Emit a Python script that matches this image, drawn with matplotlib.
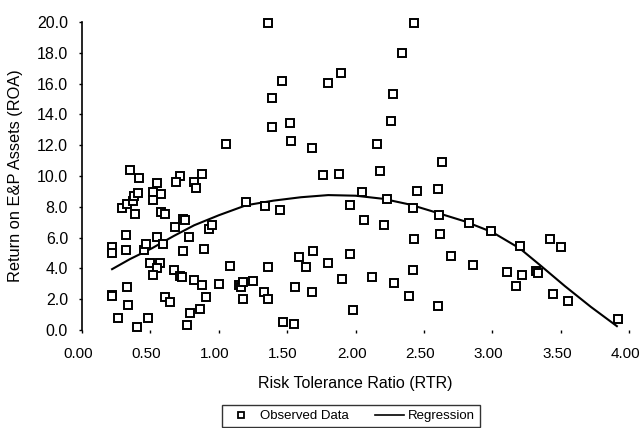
import matplotlib
matplotlib.use("Agg")
import matplotlib.pyplot as plt
from matplotlib.lines import Line2D
from matplotlib.transforms import ScaledTranslation
import numpy as np

plt.rcParams['font.family'] = ['Liberation Sans', 'DejaVu Sans']

rtr = [1.36, 2.43, 2.34, 1.46, 1.89, 1.80, 1.39, 2.27, 2.26, 1.39,
       1.52, 1.53, 2.16, 1.05, 1.68, 2.63, 1.76, 1.88, 2.18, 0.35,
       0.42, 0.55, 0.72, 0.69, 0.88, 0.82, 0.83, 0.29, 0.33, 0.37,
       0.38, 0.41, 0.39, 0.52, 0.58, 0.52, 0.58, 0.61, 0.74, 0.75,
       0.68, 0.78, 0.93, 0.95, 1.20, 1.34, 1.45, 1.96, 2.05, 2.23,
       2.45, 2.60, 2.42, 2.61, 2.83, 2.99, 2.06, 2.21, 2.43, 2.62,
       3.20, 3.42, 3.50, 0.32, 0.22, 0.22, 0.32, 0.45, 0.47, 0.55,
       0.59, 0.74, 0.89, 0.50, 0.57, 0.55, 0.52, 0.67, 0.72, 0.73,
       0.82, 0.88, 1.00, 1.08, 1.15, 1.16, 1.18, 1.25, 1.18, 1.33,
       1.36, 1.36, 1.56, 1.68, 1.59, 1.69, 1.64, 1.80, 1.96, 1.90,
       2.12, 2.28, 2.42, 2.70, 2.86, 2.39, 2.60, 1.98, 1.47, 1.55,
       3.11, 3.22, 3.32, 3.33, 3.17, 3.44, 3.55, 3.92, 0.22, 0.22,
       0.33, 0.34, 0.26, 0.40, 0.48, 0.61, 0.64, 0.91, 0.86, 0.79,
       0.77]
roa = [19.94, 19.94, 17.99, 16.17, 16.69, 16.04, 15.06, 15.32, 13.57, 13.18,
       13.44, 12.24, 12.08, 12.08, 11.82, 10.91, 10.06, 10.10, 10.32, 10.39,
       9.90, 9.53, 10.00, 9.61, 10.13, 9.59, 9.19, 7.94, 8.18, 8.40,
       8.70, 8.92, 7.53, 8.98, 8.80, 8.41, 7.68, 7.50, 7.21, 7.11,
       6.71, 6.02, 6.53, 6.82, 8.33, 8.02, 7.77, 8.14, 8.93, 8.51,
       9.03, 9.14, 7.90, 7.47, 6.93, 6.41, 7.16, 6.84, 5.92, 6.21,
       5.45, 5.89, 5.37, 6.17, 5.36, 4.98, 5.18, 5.19, 5.58, 6.05,
       5.56, 5.14, 5.29, 4.37, 4.38, 4.01, 3.57, 3.90, 3.52, 3.44,
       3.25, 2.92, 2.97, 4.14, 2.89, 2.79, 3.10, 3.18, 2.01, 2.45,
       2.01, 4.07, 2.81, 2.45, 4.72, 5.15, 4.08, 4.33, 4.92, 3.28,
       3.44, 3.07, 3.88, 4.82, 4.23, 2.21, 1.53, 1.30, 0.49, 0.39,
       3.77, 3.59, 3.83, 3.67, 2.86, 2.32, 1.86, 0.71, 2.26, 2.18,
       2.81, 1.62, 0.80, 0.21, 0.80, 2.14, 1.79, 2.11, 1.36, 1.12,
       0.34]

# regression curve as drawn
reg_x = [0.22, 0.35, 0.51, 0.67, 0.82, 1.00, 1.20, 1.40, 1.60, 1.80, 2.00,
         2.20, 2.40, 2.60, 2.80, 3.00, 3.20, 3.35, 3.53, 3.72, 3.91]
reg_y = [3.95, 4.60, 5.30, 6.10, 6.80, 7.45, 8.10, 8.40, 8.62, 8.76, 8.72,
         8.52, 8.14, 7.60, 7.05, 6.35, 5.30, 4.20, 2.85, 1.50, 0.25]

x_ticks = [0.0, 0.5, 1.0, 1.5, 2.0, 2.5, 3.0, 3.5, 4.0]
y_ticks = [0, 2, 4, 6, 8, 10, 12, 14, 16, 18, 20]

fig = plt.figure(figsize=(6.43, 4.28), dpi=100)
ax = fig.add_axes([0.1275, 0.229, 0.851, 0.7196])

ax.plot(rtr, roa, 's', mfc='white', mec='black', ms=5.3, mew=1.4,
        linestyle='none', clip_on=False, zorder=3)
ax.plot(reg_x, reg_y, '-', color='black', lw=1.5, zorder=2)

ax.set_xlim(0, 4.0)
ax.set_ylim(0, 20)
ax.set_xticks(x_ticks)
ax.set_yticks(y_ticks)
ax.set_xticklabels(["%.2f" % v for v in x_ticks])
ax.set_yticklabels(["%.1f" % v for v in y_ticks])

for s in ['top', 'right', 'bottom']:
    ax.spines[s].set_visible(False)
ax.spines['left'].set_linewidth(1.2)

ax.tick_params(axis='x', length=2, width=1, pad=10, labelsize=11)
ax.tick_params(axis='y', length=2, width=1, pad=8, labelsize=11.5)

# the scanned labels sit a little left of their ticks
shift = ScaledTranslation(-4 / 100, 0, fig.dpi_scale_trans)
for lab in ax.get_xticklabels():
    lab.set_transform(lab.get_transform() + shift)

ax.set_xlabel("Risk Tolerance Ratio (RTR)", fontsize=11.5, labelpad=11)
ax.set_ylabel("Return on E&P Assets (ROA)", fontsize=11.8, labelpad=10)

handles = [Line2D([], [], marker='s', mfc='white', mec='black', ms=5, mew=1.3,
                  linestyle='none'),
           Line2D([], [], color='black', lw=1.2)]
fig.legend(handles, ["Observed Data", "Regression"], ncol=2,
           loc='center', bbox_to_anchor=(351 / 643, 1 - 416 / 428),
           frameon=True, fancybox=False, edgecolor='black', fontsize=9.5,
           handlelength=2.2, handletextpad=0.3, columnspacing=2.0,
           borderpad=0.4)

fig.savefig("out.png", dpi=100)
